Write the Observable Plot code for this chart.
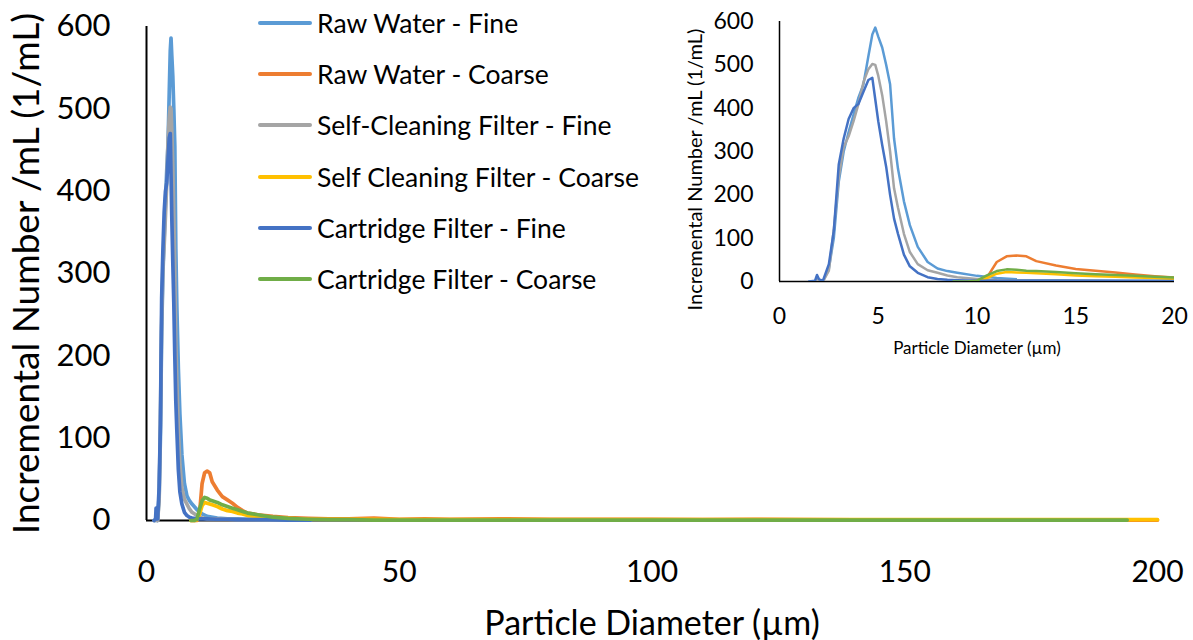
<!DOCTYPE html>
<html>
<head>
<meta charset="utf-8">
<script src="https://cdn.jsdelivr.net/npm/d3@7"></script>
<script src="https://cdn.jsdelivr.net/npm/@observablehq/plot@0.6"></script>
<style>
  html, body { margin: 0; padding: 0; background: #fff; }
  #wrap { position: relative; width: 1193px; height: 640px; overflow: hidden; font-family: Lato, "Open Sans", sans-serif; color: #000; }
  #main { position: absolute; left: 0; top: 0; }
  #inset { position: absolute; left: 680px; top: 0; }
  #main g[aria-label="y-axis label"] text { font-size: 37px; }
  #main g[aria-label="x-axis label"] text { font-size: 34px; }
  #inset g[aria-label="x-axis label"] text { font-size: 17px; }
  #legend { position: absolute; left: 258px; top: 0; }
  .item { position: absolute; left: 0; height: 32px; display: flex; align-items: center; white-space: nowrap; }
  .sw { width: 54px; height: 4px; border-radius: 2px; margin-right: 5px; }
  .lab { font-size: 26.5px; font-family: Lato, sans-serif; }
</style>
</head>
<body>
<div id="wrap">
  <div id="main"></div>
  <div id="inset"></div>
  <div id="legend"></div>
</div>
<script>
// ---- data ----
const seriesNames = [
  "Raw Water - Fine",
  "Raw Water - Coarse",
  "Self-Cleaning Filter - Fine",
  "Self Cleaning Filter - Coarse",
  "Cartridge Filter - Fine",
  "Cartridge Filter - Coarse"
];
const seriesColors = ["#5B9BD5", "#ED7D31", "#A5A5A5", "#FFC000", "#4472C4", "#70AD47"];

const fineX = [1.5, 1.8, 1.9, 2.0, 2.2, 2.5, 2.75, 3.0, 3.25, 3.5, 3.75, 4.0, 4.25, 4.5, 4.7, 4.85, 5.0, 5.2, 5.4, 5.6, 5.8, 6.0, 6.3, 6.6, 7.0, 7.5, 8.0, 8.5, 9.0, 10, 11, 12, 14, 16, 18, 20, 24, 28, 32.5];
const rawFine = [0, 0, 5, 3, 0, 30, 100, 230, 300, 345, 385, 425, 455, 520, 570, 586, 565, 540, 500, 455, 330, 260, 185, 130, 80, 45, 30, 24, 20, 13, 8, 5, 3, 2, 2, 1.5, 1, 1, 0.5];
const selfFine = [0, 0, 3, 2, 0, 25, 120, 240, 310, 335, 370, 410, 460, 490, 502, 500, 475, 430, 370, 300, 215, 170, 110, 68, 40, 26, 20, 14, 10, 6, 3, 2, 2, 1.5, 1, 1, 1, 0.5, 0.5];
const cartFine = [0, 2, 15, 5, 2, 40, 117, 270, 330, 375, 400, 410, 438, 465, 470, 420, 370, 315, 265, 200, 145, 110, 62, 35, 20, 10, 6, 4, 3, 2, 2, 2, 1.5, 1.5, 1, 1, 1, 0.5, 0.5];

const coarseX = [8.8, 9.5, 10, 10.5, 11, 11.5, 12, 12.5, 13, 14, 15, 16, 17, 18, 19, 20, 22, 25, 28, 32, 36, 40, 45, 50, 55, 60, 70, 80, 90, 100, 110, 120, 130, 150, 175, 194, 200];
const rawCoarse = [0, 0, 0, 9, 45, 58, 60, 58, 47, 37, 29, 25, 21, 16, 12, 9, 7, 5, 3.5, 2.5, 2, 2, 3, 1.5, 2, 1.5, 2, 1.5, 1.5, 1.5, 1, 1.5, 1, 0.5, 0.5, 0.5, 0.5];
const selfCoarse = [0, 0, 1, 8, 18, 22, 21, 20, 19, 17, 14, 12, 11, 9, 8, 6, 5, 3.5, 2.5, 1.5, 1.5, 1.5, 1.5, 1, 1, 1, 1, 1, 1, 1, 1, 1, 1, 1, 1, 1, 1];
const cartCoarse = [0, 0, 2, 14, 24, 28, 27, 25, 24, 22, 19, 17, 15, 13, 11, 9, 7, 4, 2.5, 1.5, 1, 1, 0.5, 0.5, 0.5, 0.5, 0.5, 0.5, 0.5, 0.5, 0.5, 0.5, 0.5, 0.5, 0.5, 0.5, null];

const mainXTicks = [0, 50, 100, 150, 200];
const insetXTicks = [0, 5, 10, 15, 20];
const yTicks = [0, 100, 200, 300, 400, 500, 600];
const yTitle = "Incremental Number /mL (1/mL)";
const xTitle = "Particle Diameter (µm)";

// ---- build table ----
const seriesData = [
  [fineX, rawFine],
  [coarseX, rawCoarse],
  [fineX, selfFine],
  [coarseX, selfCoarse],
  [fineX, cartFine],
  [coarseX, cartCoarse]
];
const rows = [];
seriesData.forEach(([xs, ys], i) => {
  xs.forEach((x, j) => rows.push({series: seriesNames[i], x, y: ys[j]}));
});

const color = {domain: seriesNames, range: seriesColors};

// ---- main chart ----
const main = Plot.plot({
  width: 1193,
  height: 640,
  marginLeft: 146,
  marginRight: 36,
  marginTop: 26,
  marginBottom: 120,
  style: {fontFamily: "Lato, sans-serif", color: "#000", background: "transparent", overflow: "visible"},
  x: {domain: [0, 200]},
  y: {domain: [0, 600]},
  color,
  marks: [
    Plot.axisY({ticks: yTicks, tickSize: 0, tickPadding: 36, fontSize: 31, label: yTitle, labelAnchor: "center", labelOffset: 134, labelArrow: "none"}),
    Plot.axisX({ticks: mainXTicks, tickSize: 0, tickPadding: 40, fontSize: 30, label: xTitle, labelAnchor: "center", labelOffset: 114, labelArrow: "none"}),
    Plot.ruleX([0], {y1: 0, y2: 600, stroke: "#000", strokeWidth: 2}),
    Plot.ruleY([0], {x1: 0, x2: 200, stroke: "#000", strokeWidth: 2}),
    Plot.line(rows, {x: "x", y: "y", z: "series", stroke: "series", strokeWidth: 3.7, strokeLinejoin: "round", curve: "linear"})
  ]
});
document.getElementById("main").appendChild(main);

// ---- inset chart ----
const inset = Plot.plot({
  width: 513,
  height: 370,
  marginLeft: 99,
  marginRight: 19,
  marginTop: 21,
  marginBottom: 89,
  style: {fontFamily: "Lato, sans-serif", color: "#000", background: "transparent", overflow: "visible"},
  x: {domain: [0, 20]},
  y: {domain: [0, 600]},
  color,
  marks: [
    Plot.axisY({ticks: yTicks, tickSize: 0, tickPadding: 26, fontSize: 23, label: null}),
    Plot.text([yTitle], {frameAnchor: "left", rotate: -90, dx: -84, dy: 18, fontSize: 20, textAnchor: "middle", lineAnchor: "middle"}),
    Plot.axisX({ticks: insetXTicks, tickSize: 0, tickPadding: 26, fontSize: 23, label: xTitle, labelAnchor: "center", labelOffset: 72, labelArrow: "none"}),
    Plot.ruleX([0], {y1: 0, y2: 600, stroke: "#000", strokeWidth: 1.5}),
    Plot.ruleY([0], {x1: 0, x2: 20, stroke: "#000", strokeWidth: 1.5}),
    Plot.line(rows, {x: "x", y: "y", z: "series", stroke: "series", strokeWidth: 2.5, strokeLinejoin: "round", clip: true})
  ]
});
document.getElementById("inset").appendChild(inset);

// ---- legend ----
const legend = document.getElementById("legend");
seriesNames.forEach((name, i) => {
  const item = document.createElement("div");
  item.className = "item";
  item.style.top = (23 + i * 51.2 - 16) + "px";
  const sw = document.createElement("div");
  sw.className = "sw";
  sw.style.background = seriesColors[i];
  const lab = document.createElement("span");
  lab.className = "lab";
  lab.textContent = name;
  item.appendChild(sw);
  item.appendChild(lab);
  legend.appendChild(item);
});
</script>
</body>
</html>
